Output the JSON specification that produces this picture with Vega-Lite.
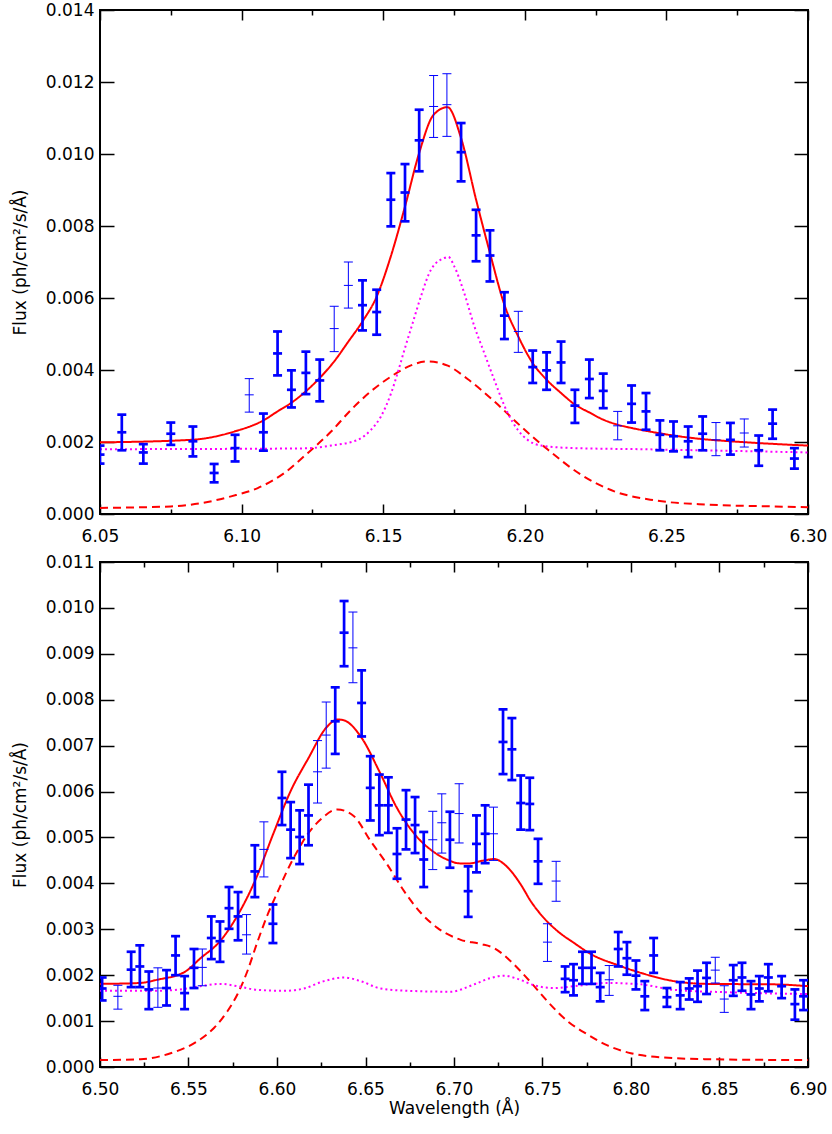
{
  "$schema": "https://vega.github.io/schema/vega-lite/v6.json",
  "padding": {"left": 10, "top": 0, "right": 5, "bottom": 5},
  "background": "white",
  "spacing": 7,
  "config": {
    "view": {"stroke": "#000000", "strokeWidth": 2},
    "axis": {
      "labelFont": "DejaVu Sans", "labelFontSize": 17, "labelColor": "#000000",
      "titleFont": "DejaVu Sans", "titleFontSize": 17, "titleFontWeight": "normal", "titleColor": "#000000",
      "domain": false, "grid": false, "tickColor": "#000000", "tickWidth": 1.5,
      "labelFlush": false, "labelOverlap": false
    }
  },
  "datasets": {
    "top_bars": [
      {"wl": 6.0500, "flux": 0.00165, "lo": 0.00140, "hi": 0.00190, "kind": "thick"},
      {"wl": 6.0577, "flux": 0.00227, "lo": 0.00177, "hi": 0.00276, "kind": "thick"},
      {"wl": 6.0653, "flux": 0.00171, "lo": 0.00140, "hi": 0.00194, "kind": "thick"},
      {"wl": 6.0750, "flux": 0.00223, "lo": 0.00192, "hi": 0.00254, "kind": "thick"},
      {"wl": 6.0828, "flux": 0.00202, "lo": 0.00160, "hi": 0.00243, "kind": "thick"},
      {"wl": 6.0903, "flux": 0.00114, "lo": 0.00088, "hi": 0.00139, "kind": "thick"},
      {"wl": 6.0977, "flux": 0.00183, "lo": 0.00146, "hi": 0.00220, "kind": "thick"},
      {"wl": 6.1027, "flux": 0.00331, "lo": 0.00283, "hi": 0.00376, "kind": "thin"},
      {"wl": 6.1077, "flux": 0.00227, "lo": 0.00176, "hi": 0.00279, "kind": "thick"},
      {"wl": 6.1127, "flux": 0.00446, "lo": 0.00385, "hi": 0.00507, "kind": "thick"},
      {"wl": 6.1176, "flux": 0.00345, "lo": 0.00296, "hi": 0.00399, "kind": "thick"},
      {"wl": 6.1227, "flux": 0.00392, "lo": 0.00333, "hi": 0.00451, "kind": "thick"},
      {"wl": 6.1276, "flux": 0.00371, "lo": 0.00313, "hi": 0.00429, "kind": "thick"},
      {"wl": 6.1327, "flux": 0.00515, "lo": 0.00451, "hi": 0.00577, "kind": "thin"},
      {"wl": 6.1377, "flux": 0.00635, "lo": 0.00572, "hi": 0.00700, "kind": "thin"},
      {"wl": 6.1427, "flux": 0.00580, "lo": 0.00510, "hi": 0.00649, "kind": "thick"},
      {"wl": 6.1477, "flux": 0.00561, "lo": 0.00498, "hi": 0.00623, "kind": "thick"},
      {"wl": 6.1527, "flux": 0.00873, "lo": 0.00799, "hi": 0.00947, "kind": "thick"},
      {"wl": 6.1577, "flux": 0.00893, "lo": 0.00813, "hi": 0.00972, "kind": "thick"},
      {"wl": 6.1627, "flux": 0.01038, "lo": 0.00952, "hi": 0.01123, "kind": "thick"},
      {"wl": 6.1678, "flux": 0.01132, "lo": 0.01046, "hi": 0.01218, "kind": "thin"},
      {"wl": 6.1725, "flux": 0.01137, "lo": 0.01049, "hi": 0.01223, "kind": "thin"},
      {"wl": 6.1775, "flux": 0.01005, "lo": 0.00924, "hi": 0.01086, "kind": "thick"},
      {"wl": 6.1828, "flux": 0.00774, "lo": 0.00702, "hi": 0.00845, "kind": "thick"},
      {"wl": 6.1877, "flux": 0.00718, "lo": 0.00646, "hi": 0.00788, "kind": "thick"},
      {"wl": 6.1928, "flux": 0.00551, "lo": 0.00486, "hi": 0.00616, "kind": "thick"},
      {"wl": 6.1977, "flux": 0.00507, "lo": 0.00449, "hi": 0.00563, "kind": "thin"},
      {"wl": 6.2028, "flux": 0.00408, "lo": 0.00364, "hi": 0.00454, "kind": "thick"},
      {"wl": 6.2077, "flux": 0.00399, "lo": 0.00345, "hi": 0.00449, "kind": "thick"},
      {"wl": 6.2128, "flux": 0.00421, "lo": 0.00364, "hi": 0.00479, "kind": "thick"},
      {"wl": 6.2177, "flux": 0.00301, "lo": 0.00253, "hi": 0.00345, "kind": "thick"},
      {"wl": 6.2228, "flux": 0.00375, "lo": 0.00322, "hi": 0.00429, "kind": "thick"},
      {"wl": 6.2277, "flux": 0.00342, "lo": 0.00294, "hi": 0.00390, "kind": "thick"},
      {"wl": 6.2328, "flux": 0.00245, "lo": 0.00206, "hi": 0.00285, "kind": "thin"},
      {"wl": 6.2377, "flux": 0.00306, "lo": 0.00254, "hi": 0.00357, "kind": "thick"},
      {"wl": 6.2428, "flux": 0.00285, "lo": 0.00234, "hi": 0.00336, "kind": "thick"},
      {"wl": 6.2477, "flux": 0.00220, "lo": 0.00177, "hi": 0.00260, "kind": "thick"},
      {"wl": 6.2525, "flux": 0.00216, "lo": 0.00174, "hi": 0.00257, "kind": "thick"},
      {"wl": 6.2577, "flux": 0.00202, "lo": 0.00158, "hi": 0.00243, "kind": "thick"},
      {"wl": 6.2628, "flux": 0.00223, "lo": 0.00177, "hi": 0.00271, "kind": "thick"},
      {"wl": 6.2675, "flux": 0.00206, "lo": 0.00162, "hi": 0.00254, "kind": "thin"},
      {"wl": 6.2726, "flux": 0.00206, "lo": 0.00165, "hi": 0.00253, "kind": "thick"},
      {"wl": 6.2775, "flux": 0.00225, "lo": 0.00186, "hi": 0.00264, "kind": "thin"},
      {"wl": 6.2826, "flux": 0.00177, "lo": 0.00134, "hi": 0.00218, "kind": "thick"},
      {"wl": 6.2875, "flux": 0.00251, "lo": 0.00209, "hi": 0.00290, "kind": "thick"},
      {"wl": 6.2952, "flux": 0.00154, "lo": 0.00126, "hi": 0.00183, "kind": "thick"}
    ],
    "top_lines": [
      {"comp": "model", "wl": 6.0500, "flux": 0.00199},
      {"comp": "model", "wl": 6.0821, "flux": 0.00206},
      {"comp": "model", "wl": 6.0974, "flux": 0.00229},
      {"comp": "model", "wl": 6.1077, "flux": 0.00260},
      {"comp": "model", "wl": 6.1127, "flux": 0.00285},
      {"comp": "model", "wl": 6.1174, "flux": 0.00308},
      {"comp": "model", "wl": 6.1227, "flux": 0.00341},
      {"comp": "model", "wl": 6.1276, "flux": 0.00378},
      {"comp": "model", "wl": 6.1327, "flux": 0.00424},
      {"comp": "model", "wl": 6.1377, "flux": 0.00479},
      {"comp": "model", "wl": 6.1427, "flux": 0.00535},
      {"comp": "model", "wl": 6.1477, "flux": 0.00604},
      {"comp": "model", "wl": 6.1527, "flux": 0.00716},
      {"comp": "model", "wl": 6.1577, "flux": 0.00854},
      {"comp": "model", "wl": 6.1627, "flux": 0.01003},
      {"comp": "model", "wl": 6.1678, "flux": 0.01109},
      {"comp": "model", "wl": 6.1727, "flux": 0.01130},
      {"comp": "model", "wl": 6.1775, "flux": 0.01044},
      {"comp": "model", "wl": 6.1828, "flux": 0.00873},
      {"comp": "model", "wl": 6.1877, "flux": 0.00725},
      {"comp": "model", "wl": 6.1928, "flux": 0.00581},
      {"comp": "model", "wl": 6.1977, "flux": 0.00493},
      {"comp": "model", "wl": 6.2028, "flux": 0.00419},
      {"comp": "model", "wl": 6.2077, "flux": 0.00373},
      {"comp": "model", "wl": 6.2128, "flux": 0.00336},
      {"comp": "model", "wl": 6.2177, "flux": 0.00304},
      {"comp": "model", "wl": 6.2228, "flux": 0.00282},
      {"comp": "model", "wl": 6.2277, "flux": 0.00262},
      {"comp": "model", "wl": 6.2328, "flux": 0.00248},
      {"comp": "model", "wl": 6.2377, "flux": 0.00239},
      {"comp": "model", "wl": 6.2428, "flux": 0.00231},
      {"comp": "model", "wl": 6.2525, "flux": 0.00218},
      {"comp": "model", "wl": 6.2628, "flux": 0.00208},
      {"comp": "model", "wl": 6.2726, "flux": 0.00202},
      {"comp": "model", "wl": 6.2826, "flux": 0.00197},
      {"comp": "model", "wl": 6.3000, "flux": 0.00190},
      {"comp": "broad", "wl": 6.0500, "flux": 0.00017},
      {"comp": "broad", "wl": 6.0750, "flux": 0.00021},
      {"comp": "broad", "wl": 6.0856, "flux": 0.00030},
      {"comp": "broad", "wl": 6.0963, "flux": 0.00049},
      {"comp": "broad", "wl": 6.1057, "flux": 0.00072},
      {"comp": "broad", "wl": 6.1151, "flux": 0.00114},
      {"comp": "broad", "wl": 6.1233, "flux": 0.00169},
      {"comp": "broad", "wl": 6.1316, "flux": 0.00229},
      {"comp": "broad", "wl": 6.1386, "flux": 0.00289},
      {"comp": "broad", "wl": 6.1457, "flux": 0.00341},
      {"comp": "broad", "wl": 6.1528, "flux": 0.00382},
      {"comp": "broad", "wl": 6.1598, "flux": 0.00413},
      {"comp": "broad", "wl": 6.1657, "flux": 0.00424},
      {"comp": "broad", "wl": 6.1728, "flux": 0.00412},
      {"comp": "broad", "wl": 6.1798, "flux": 0.00375},
      {"comp": "broad", "wl": 6.1892, "flux": 0.00313},
      {"comp": "broad", "wl": 6.1987, "flux": 0.00243},
      {"comp": "broad", "wl": 6.2081, "flux": 0.00179},
      {"comp": "broad", "wl": 6.2199, "flux": 0.00109},
      {"comp": "broad", "wl": 6.2316, "flux": 0.00063},
      {"comp": "broad", "wl": 6.2458, "flux": 0.00038},
      {"comp": "broad", "wl": 6.2646, "flux": 0.00026},
      {"comp": "broad", "wl": 6.2882, "flux": 0.00021},
      {"comp": "broad", "wl": 6.3000, "flux": 0.00019},
      {"comp": "narrow", "wl": 6.0500, "flux": 0.00180},
      {"comp": "narrow", "wl": 6.1200, "flux": 0.00182},
      {"comp": "narrow", "wl": 6.1245, "flux": 0.00183},
      {"comp": "narrow", "wl": 6.1316, "flux": 0.00190},
      {"comp": "narrow", "wl": 6.1410, "flux": 0.00206},
      {"comp": "narrow", "wl": 6.1457, "flux": 0.00234},
      {"comp": "narrow", "wl": 6.1492, "flux": 0.00271},
      {"comp": "narrow", "wl": 6.1528, "flux": 0.00336},
      {"comp": "narrow", "wl": 6.1551, "flux": 0.00392},
      {"comp": "narrow", "wl": 6.1575, "flux": 0.00456},
      {"comp": "narrow", "wl": 6.1604, "flux": 0.00530},
      {"comp": "narrow", "wl": 6.1633, "flux": 0.00604},
      {"comp": "narrow", "wl": 6.1669, "flux": 0.00679},
      {"comp": "narrow", "wl": 6.1716, "flux": 0.00711},
      {"comp": "narrow", "wl": 6.1730, "flux": 0.00714},
      {"comp": "narrow", "wl": 6.1751, "flux": 0.00688},
      {"comp": "narrow", "wl": 6.1786, "flux": 0.00614},
      {"comp": "narrow", "wl": 6.1822, "flux": 0.00521},
      {"comp": "narrow", "wl": 6.1857, "flux": 0.00447},
      {"comp": "narrow", "wl": 6.1892, "flux": 0.00373},
      {"comp": "narrow", "wl": 6.1940, "flux": 0.00280},
      {"comp": "narrow", "wl": 6.1975, "flux": 0.00234},
      {"comp": "narrow", "wl": 6.2010, "flux": 0.00206},
      {"comp": "narrow", "wl": 6.2057, "flux": 0.00190},
      {"comp": "narrow", "wl": 6.2175, "flux": 0.00183},
      {"comp": "narrow", "wl": 6.2410, "flux": 0.00180},
      {"comp": "narrow", "wl": 6.3000, "flux": 0.00171}
    ],
    "bottom_bars": [
      {"wl": 6.5012, "flux": 0.00171, "lo": 0.00145, "hi": 0.00195, "kind": "thick"},
      {"wl": 6.5101, "flux": 0.00154, "lo": 0.00126, "hi": 0.00178, "kind": "thin"},
      {"wl": 6.5176, "flux": 0.00212, "lo": 0.00174, "hi": 0.00251, "kind": "thick"},
      {"wl": 6.5225, "flux": 0.00219, "lo": 0.00174, "hi": 0.00265, "kind": "thick"},
      {"wl": 6.5276, "flux": 0.00169, "lo": 0.00126, "hi": 0.00208, "kind": "thick"},
      {"wl": 6.5327, "flux": 0.00172, "lo": 0.00130, "hi": 0.00216, "kind": "thin"},
      {"wl": 6.5376, "flux": 0.00172, "lo": 0.00134, "hi": 0.00211, "kind": "thick"},
      {"wl": 6.5427, "flux": 0.00243, "lo": 0.00200, "hi": 0.00285, "kind": "thick"},
      {"wl": 6.5478, "flux": 0.00161, "lo": 0.00126, "hi": 0.00198, "kind": "thick"},
      {"wl": 6.5531, "flux": 0.00216, "lo": 0.00172, "hi": 0.00257, "kind": "thick"},
      {"wl": 6.5578, "flux": 0.00217, "lo": 0.00177, "hi": 0.00257, "kind": "thin"},
      {"wl": 6.5629, "flux": 0.00281, "lo": 0.00235, "hi": 0.00328, "kind": "thick"},
      {"wl": 6.5678, "flux": 0.00274, "lo": 0.00229, "hi": 0.00317, "kind": "thick"},
      {"wl": 6.5729, "flux": 0.00346, "lo": 0.00301, "hi": 0.00392, "kind": "thick"},
      {"wl": 6.5780, "flux": 0.00328, "lo": 0.00276, "hi": 0.00381, "kind": "thick"},
      {"wl": 6.5828, "flux": 0.00288, "lo": 0.00246, "hi": 0.00332, "kind": "thin"},
      {"wl": 6.5875, "flux": 0.00426, "lo": 0.00370, "hi": 0.00483, "kind": "thick"},
      {"wl": 6.5926, "flux": 0.00474, "lo": 0.00414, "hi": 0.00534, "kind": "thin"},
      {"wl": 6.5977, "flux": 0.00312, "lo": 0.00270, "hi": 0.00354, "kind": "thick"},
      {"wl": 6.6028, "flux": 0.00586, "lo": 0.00527, "hi": 0.00643, "kind": "thick"},
      {"wl": 6.6077, "flux": 0.00517, "lo": 0.00455, "hi": 0.00577, "kind": "thick"},
      {"wl": 6.6128, "flux": 0.00501, "lo": 0.00442, "hi": 0.00559, "kind": "thick"},
      {"wl": 6.6178, "flux": 0.00548, "lo": 0.00483, "hi": 0.00615, "kind": "thick"},
      {"wl": 6.6229, "flux": 0.00643, "lo": 0.00575, "hi": 0.00711, "kind": "thin"},
      {"wl": 6.6278, "flux": 0.00723, "lo": 0.00651, "hi": 0.00795, "kind": "thin"},
      {"wl": 6.6329, "flux": 0.00753, "lo": 0.00682, "hi": 0.00827, "kind": "thick"},
      {"wl": 6.6379, "flux": 0.00946, "lo": 0.00873, "hi": 0.01015, "kind": "thick"},
      {"wl": 6.6429, "flux": 0.00913, "lo": 0.00837, "hi": 0.00991, "kind": "thin"},
      {"wl": 6.6478, "flux": 0.00793, "lo": 0.00720, "hi": 0.00864, "kind": "thick"},
      {"wl": 6.6527, "flux": 0.00608, "lo": 0.00537, "hi": 0.00677, "kind": "thick"},
      {"wl": 6.6578, "flux": 0.00570, "lo": 0.00505, "hi": 0.00637, "kind": "thick"},
      {"wl": 6.6629, "flux": 0.00570, "lo": 0.00510, "hi": 0.00631, "kind": "thick"},
      {"wl": 6.6678, "flux": 0.00464, "lo": 0.00410, "hi": 0.00520, "kind": "thick"},
      {"wl": 6.6729, "flux": 0.00539, "lo": 0.00474, "hi": 0.00603, "kind": "thick"},
      {"wl": 6.6780, "flux": 0.00527, "lo": 0.00466, "hi": 0.00588, "kind": "thick"},
      {"wl": 6.6829, "flux": 0.00452, "lo": 0.00392, "hi": 0.00512, "kind": "thick"},
      {"wl": 6.6880, "flux": 0.00495, "lo": 0.00430, "hi": 0.00557, "kind": "thin"},
      {"wl": 6.6931, "flux": 0.00532, "lo": 0.00466, "hi": 0.00595, "kind": "thin"},
      {"wl": 6.6977, "flux": 0.00495, "lo": 0.00434, "hi": 0.00556, "kind": "thick"},
      {"wl": 6.7029, "flux": 0.00552, "lo": 0.00488, "hi": 0.00617, "kind": "thin"},
      {"wl": 6.7080, "flux": 0.00383, "lo": 0.00327, "hi": 0.00437, "kind": "thick"},
      {"wl": 6.7127, "flux": 0.00486, "lo": 0.00424, "hi": 0.00548, "kind": "thick"},
      {"wl": 6.7176, "flux": 0.00508, "lo": 0.00444, "hi": 0.00570, "kind": "thick"},
      {"wl": 6.7223, "flux": 0.00508, "lo": 0.00450, "hi": 0.00566, "kind": "thin"},
      {"wl": 6.7277, "flux": 0.00708, "lo": 0.00638, "hi": 0.00779, "kind": "thick"},
      {"wl": 6.7327, "flux": 0.00692, "lo": 0.00625, "hi": 0.00760, "kind": "thick"},
      {"wl": 6.7377, "flux": 0.00575, "lo": 0.00517, "hi": 0.00635, "kind": "thick"},
      {"wl": 6.7428, "flux": 0.00573, "lo": 0.00516, "hi": 0.00630, "kind": "thick"},
      {"wl": 6.7475, "flux": 0.00448, "lo": 0.00399, "hi": 0.00497, "kind": "thick"},
      {"wl": 6.7528, "flux": 0.00272, "lo": 0.00230, "hi": 0.00312, "kind": "thin"},
      {"wl": 6.7577, "flux": 0.00405, "lo": 0.00361, "hi": 0.00448, "kind": "thin"},
      {"wl": 6.7628, "flux": 0.00192, "lo": 0.00163, "hi": 0.00219, "kind": "thick"},
      {"wl": 6.7675, "flux": 0.00189, "lo": 0.00156, "hi": 0.00224, "kind": "thick"},
      {"wl": 6.7726, "flux": 0.00216, "lo": 0.00181, "hi": 0.00251, "kind": "thick"},
      {"wl": 6.7777, "flux": 0.00216, "lo": 0.00181, "hi": 0.00251, "kind": "thick"},
      {"wl": 6.7826, "flux": 0.00174, "lo": 0.00143, "hi": 0.00205, "kind": "thick"},
      {"wl": 6.7877, "flux": 0.00190, "lo": 0.00156, "hi": 0.00221, "kind": "thin"},
      {"wl": 6.7928, "flux": 0.00257, "lo": 0.00219, "hi": 0.00294, "kind": "thick"},
      {"wl": 6.7977, "flux": 0.00237, "lo": 0.00201, "hi": 0.00272, "kind": "thick"},
      {"wl": 6.8028, "flux": 0.00199, "lo": 0.00169, "hi": 0.00232, "kind": "thick"},
      {"wl": 6.8078, "flux": 0.00154, "lo": 0.00124, "hi": 0.00187, "kind": "thick"},
      {"wl": 6.8128, "flux": 0.00243, "lo": 0.00205, "hi": 0.00281, "kind": "thick"},
      {"wl": 6.8203, "flux": 0.00152, "lo": 0.00131, "hi": 0.00172, "kind": "thick"},
      {"wl": 6.8278, "flux": 0.00156, "lo": 0.00126, "hi": 0.00185, "kind": "thick"},
      {"wl": 6.8329, "flux": 0.00171, "lo": 0.00147, "hi": 0.00193, "kind": "thick"},
      {"wl": 6.8376, "flux": 0.00176, "lo": 0.00142, "hi": 0.00210, "kind": "thick"},
      {"wl": 6.8427, "flux": 0.00194, "lo": 0.00159, "hi": 0.00227, "kind": "thick"},
      {"wl": 6.8476, "flux": 0.00211, "lo": 0.00183, "hi": 0.00239, "kind": "thin"},
      {"wl": 6.8527, "flux": 0.00148, "lo": 0.00119, "hi": 0.00177, "kind": "thin"},
      {"wl": 6.8578, "flux": 0.00189, "lo": 0.00155, "hi": 0.00222, "kind": "thick"},
      {"wl": 6.8627, "flux": 0.00195, "lo": 0.00166, "hi": 0.00227, "kind": "thick"},
      {"wl": 6.8678, "flux": 0.00158, "lo": 0.00126, "hi": 0.00187, "kind": "thick"},
      {"wl": 6.8725, "flux": 0.00171, "lo": 0.00143, "hi": 0.00198, "kind": "thick"},
      {"wl": 6.8776, "flux": 0.00195, "lo": 0.00165, "hi": 0.00224, "kind": "thick"},
      {"wl": 6.8851, "flux": 0.00176, "lo": 0.00150, "hi": 0.00198, "kind": "thick"},
      {"wl": 6.8926, "flux": 0.00137, "lo": 0.00103, "hi": 0.00169, "kind": "thick"},
      {"wl": 6.8975, "flux": 0.00154, "lo": 0.00124, "hi": 0.00189, "kind": "thick"}
    ],
    "bottom_lines": [
      {"comp": "model", "wl": 6.5000, "flux": 0.00181},
      {"comp": "model", "wl": 6.5225, "flux": 0.00183},
      {"comp": "model", "wl": 6.5323, "flux": 0.00190},
      {"comp": "model", "wl": 6.5478, "flux": 0.00207},
      {"comp": "model", "wl": 6.5568, "flux": 0.00237},
      {"comp": "model", "wl": 6.5678, "flux": 0.00274},
      {"comp": "model", "wl": 6.5780, "flux": 0.00332},
      {"comp": "model", "wl": 6.5875, "flux": 0.00405},
      {"comp": "model", "wl": 6.5977, "flux": 0.00506},
      {"comp": "model", "wl": 6.6077, "flux": 0.00601},
      {"comp": "model", "wl": 6.6178, "flux": 0.00673},
      {"comp": "model", "wl": 6.6278, "flux": 0.00739},
      {"comp": "model", "wl": 6.6342, "flux": 0.00757},
      {"comp": "model", "wl": 6.6379, "flux": 0.00755},
      {"comp": "model", "wl": 6.6478, "flux": 0.00717},
      {"comp": "model", "wl": 6.6578, "flux": 0.00644},
      {"comp": "model", "wl": 6.6678, "flux": 0.00564},
      {"comp": "model", "wl": 6.6780, "flux": 0.00506},
      {"comp": "model", "wl": 6.6880, "flux": 0.00470},
      {"comp": "model", "wl": 6.6972, "flux": 0.00450},
      {"comp": "model", "wl": 6.7020, "flux": 0.00444},
      {"comp": "model", "wl": 6.7076, "flux": 0.00443},
      {"comp": "model", "wl": 6.7171, "flux": 0.00450},
      {"comp": "model", "wl": 6.7227, "flux": 0.00453},
      {"comp": "model", "wl": 6.7283, "flux": 0.00442},
      {"comp": "model", "wl": 6.7330, "flux": 0.00423},
      {"comp": "model", "wl": 6.7378, "flux": 0.00397},
      {"comp": "model", "wl": 6.7434, "flux": 0.00361},
      {"comp": "model", "wl": 6.7491, "flux": 0.00332},
      {"comp": "model", "wl": 6.7585, "flux": 0.00296},
      {"comp": "model", "wl": 6.7679, "flux": 0.00270},
      {"comp": "model", "wl": 6.7773, "flux": 0.00246},
      {"comp": "model", "wl": 6.7924, "flux": 0.00222},
      {"comp": "model", "wl": 6.8056, "flux": 0.00205},
      {"comp": "model", "wl": 6.8244, "flux": 0.00187},
      {"comp": "model", "wl": 6.8433, "flux": 0.00181},
      {"comp": "model", "wl": 6.8810, "flux": 0.00180},
      {"comp": "model", "wl": 6.9000, "flux": 0.00176},
      {"comp": "broad", "wl": 6.5000, "flux": 0.00015},
      {"comp": "broad", "wl": 6.5229, "flux": 0.00017},
      {"comp": "broad", "wl": 6.5399, "flux": 0.00030},
      {"comp": "broad", "wl": 6.5550, "flux": 0.00056},
      {"comp": "broad", "wl": 6.5644, "flux": 0.00085},
      {"comp": "broad", "wl": 6.5719, "flux": 0.00121},
      {"comp": "broad", "wl": 6.5776, "flux": 0.00158},
      {"comp": "broad", "wl": 6.5832, "flux": 0.00208},
      {"comp": "broad", "wl": 6.5889, "flux": 0.00272},
      {"comp": "broad", "wl": 6.5945, "flux": 0.00330},
      {"comp": "broad", "wl": 6.6002, "flux": 0.00380},
      {"comp": "broad", "wl": 6.6058, "flux": 0.00428},
      {"comp": "broad", "wl": 6.6115, "flux": 0.00470},
      {"comp": "broad", "wl": 6.6171, "flux": 0.00506},
      {"comp": "broad", "wl": 6.6246, "flux": 0.00539},
      {"comp": "broad", "wl": 6.6341, "flux": 0.00561},
      {"comp": "broad", "wl": 6.6435, "flux": 0.00546},
      {"comp": "broad", "wl": 6.6529, "flux": 0.00492},
      {"comp": "broad", "wl": 6.6623, "flux": 0.00441},
      {"comp": "broad", "wl": 6.6718, "flux": 0.00383},
      {"comp": "broad", "wl": 6.6812, "flux": 0.00336},
      {"comp": "broad", "wl": 6.6906, "flux": 0.00303},
      {"comp": "broad", "wl": 6.7038, "flux": 0.00277},
      {"comp": "broad", "wl": 6.7150, "flux": 0.00268},
      {"comp": "broad", "wl": 6.7227, "flux": 0.00259},
      {"comp": "broad", "wl": 6.7302, "flux": 0.00237},
      {"comp": "broad", "wl": 6.7378, "flux": 0.00208},
      {"comp": "broad", "wl": 6.7453, "flux": 0.00176},
      {"comp": "broad", "wl": 6.7528, "flux": 0.00143},
      {"comp": "broad", "wl": 6.7641, "flux": 0.00100},
      {"comp": "broad", "wl": 6.7754, "flux": 0.00071},
      {"comp": "broad", "wl": 6.7867, "flux": 0.00047},
      {"comp": "broad", "wl": 6.7999, "flux": 0.00030},
      {"comp": "broad", "wl": 6.8169, "flux": 0.00021},
      {"comp": "broad", "wl": 6.8433, "flux": 0.00017},
      {"comp": "broad", "wl": 6.9000, "flux": 0.00015},
      {"comp": "narrow", "wl": 6.5000, "flux": 0.00166},
      {"comp": "narrow", "wl": 6.5323, "flux": 0.00166},
      {"comp": "narrow", "wl": 6.5493, "flux": 0.00171},
      {"comp": "narrow", "wl": 6.5568, "flux": 0.00176},
      {"comp": "narrow", "wl": 6.5681, "flux": 0.00181},
      {"comp": "narrow", "wl": 6.5776, "flux": 0.00176},
      {"comp": "narrow", "wl": 6.5889, "flux": 0.00168},
      {"comp": "narrow", "wl": 6.6039, "flux": 0.00166},
      {"comp": "narrow", "wl": 6.6152, "flux": 0.00171},
      {"comp": "narrow", "wl": 6.6265, "flux": 0.00187},
      {"comp": "narrow", "wl": 6.6379, "flux": 0.00195},
      {"comp": "narrow", "wl": 6.6473, "flux": 0.00187},
      {"comp": "narrow", "wl": 6.6586, "flux": 0.00171},
      {"comp": "narrow", "wl": 6.6737, "flux": 0.00166},
      {"comp": "narrow", "wl": 6.6981, "flux": 0.00164},
      {"comp": "narrow", "wl": 6.7114, "flux": 0.00180},
      {"comp": "narrow", "wl": 6.7208, "flux": 0.00194},
      {"comp": "narrow", "wl": 6.7283, "flux": 0.00199},
      {"comp": "narrow", "wl": 6.7359, "flux": 0.00192},
      {"comp": "narrow", "wl": 6.7453, "flux": 0.00178},
      {"comp": "narrow", "wl": 6.7566, "flux": 0.00172},
      {"comp": "narrow", "wl": 6.7679, "flux": 0.00176},
      {"comp": "narrow", "wl": 6.7867, "flux": 0.00183},
      {"comp": "narrow", "wl": 6.8056, "flux": 0.00180},
      {"comp": "narrow", "wl": 6.8244, "flux": 0.00168},
      {"comp": "narrow", "wl": 6.8527, "flux": 0.00163},
      {"comp": "narrow", "wl": 6.9000, "flux": 0.00159}
    ]
  },
  "vconcat": [
    {
      "width": 708,
      "height": 504,
      "resolve": {"axis": {"x": "independent", "y": "independent"}},
      "layer": [
        {
          "data": {"name": "top_lines"},
          "mark": {"type": "line", "strokeWidth": 2, "interpolate": "monotone", "clip": true},
          "encoding": {
            "x": {"field": "wl", "type": "quantitative", "scale": {"domain": [6.05, 6.3], "nice": false, "zero": false},
                  "axis": {"orient": "bottom", "values": [6.05, 6.1, 6.15, 6.2, 6.25, 6.3], "format": ".2f", "tickSize": -10, "labelPadding": 24, "title": null}},
            "y": {"field": "flux", "type": "quantitative", "scale": {"domain": [0, 0.014], "nice": false, "zero": false},
                  "axis": {"orient": "left", "values": [0, 0.002, 0.004, 0.006, 0.008, 0.01, 0.012, 0.014], "format": ".3f", "tickSize": -14, "labelPadding": 20, "title": "Flux (ph/cm²/s/Å)", "titlePadding": 16}},
            "color": {"field": "comp", "type": "nominal", "legend": null,
                      "scale": {"domain": ["model", "broad", "narrow"], "range": ["#ff0000", "#ff0000", "#ff00ff"]}},
            "strokeDash": {"field": "comp", "type": "nominal", "legend": null,
                           "scale": {"domain": ["model", "broad", "narrow"], "range": [[1, 0], [8, 5], [2, 3]]}}
          }
        },
        {
          "data": {"name": "top_bars"},
          "mark": {"type": "rule", "color": "#0000ff", "clip": true},
          "encoding": {
            "x": {"field": "wl", "type": "quantitative",
                  "axis": {"orient": "bottom", "values": [6.075, 6.125, 6.175, 6.225, 6.275], "tickSize": -5, "labels": false, "title": null}},
            "y": {"field": "lo", "type": "quantitative",
                  "axis": {"orient": "right", "values": [0, 0.002, 0.004, 0.006, 0.008, 0.01, 0.012, 0.014], "tickSize": -14, "labels": false, "title": null}},
            "y2": {"field": "hi"},
            "strokeWidth": {"field": "kind", "type": "nominal", "legend": null,
                            "scale": {"type": "ordinal", "domain": ["thick", "thin"], "range": [2.7, 1]}}
          }
        },
        {
          "data": {"name": "top_bars"},
          "mark": {"type": "point", "shape": "M-1,0L1,0", "size": 81, "filled": false, "color": "#0000ff", "opacity": 1, "clip": true},
          "encoding": {
            "x": {"field": "wl", "type": "quantitative",
                  "axis": {"orient": "top", "values": [6.05, 6.1, 6.15, 6.2, 6.25, 6.3], "tickSize": -10, "labels": false, "title": null}},
            "y": {"field": "lo", "type": "quantitative", "axis": null},
            "strokeWidth": {"field": "kind", "type": "nominal", "legend": null,
                            "scale": {"type": "ordinal", "domain": ["thick", "thin"], "range": [2.7, 1]}}
          }
        },
        {
          "data": {"name": "top_bars"},
          "mark": {"type": "point", "shape": "M-1,0L1,0", "size": 81, "filled": false, "color": "#0000ff", "opacity": 1, "clip": true},
          "encoding": {
            "x": {"field": "wl", "type": "quantitative",
                  "axis": {"orient": "top", "values": [6.075, 6.125, 6.175, 6.225, 6.275], "tickSize": -5, "labels": false, "title": null}},
            "y": {"field": "hi", "type": "quantitative", "axis": null},
            "strokeWidth": {"field": "kind", "type": "nominal", "legend": null,
                            "scale": {"type": "ordinal", "domain": ["thick", "thin"], "range": [2.7, 1]}}
          }
        },
        {
          "data": {"name": "top_bars"},
          "mark": {"type": "point", "shape": "M-1,0L1,0", "size": 81, "filled": false, "color": "#0000ff", "opacity": 1, "clip": true},
          "encoding": {
            "x": {"field": "wl", "type": "quantitative", "axis": null},
            "y": {"field": "flux", "type": "quantitative", "axis": null},
            "strokeWidth": {"field": "kind", "type": "nominal", "legend": null,
                            "scale": {"type": "ordinal", "domain": ["thick", "thin"], "range": [2.7, 1]}}
          }
        }
      ]
    },
    {
      "width": 708,
      "height": 505,
      "resolve": {"axis": {"x": "independent", "y": "independent"}},
      "layer": [
        {
          "data": {"name": "bottom_lines"},
          "mark": {"type": "line", "strokeWidth": 2, "interpolate": "monotone", "clip": true},
          "encoding": {
            "x": {"field": "wl", "type": "quantitative", "scale": {"domain": [6.5, 6.9], "nice": false, "zero": false},
                  "axis": {"orient": "bottom", "values": [6.5, 6.55, 6.6, 6.65, 6.7, 6.75, 6.8, 6.85, 6.9], "format": ".2f", "tickSize": -10, "labelPadding": 24, "title": "Wavelength (Å)", "titlePadding": 3}},
            "y": {"field": "flux", "type": "quantitative", "scale": {"domain": [0, 0.011], "nice": false, "zero": false},
                  "axis": {"orient": "left", "values": [0, 0.001, 0.002, 0.003, 0.004, 0.005, 0.006, 0.007, 0.008, 0.009, 0.01, 0.011], "format": ".3f", "tickSize": -14, "labelPadding": 20, "title": "Flux (ph/cm²/s/Å)", "titlePadding": 16}},
            "color": {"field": "comp", "type": "nominal", "legend": null,
                      "scale": {"domain": ["model", "broad", "narrow"], "range": ["#ff0000", "#ff0000", "#ff00ff"]}},
            "strokeDash": {"field": "comp", "type": "nominal", "legend": null,
                           "scale": {"domain": ["model", "broad", "narrow"], "range": [[1, 0], [8, 5], [2, 3]]}}
          }
        },
        {
          "data": {"name": "bottom_bars"},
          "mark": {"type": "rule", "color": "#0000ff", "clip": true},
          "encoding": {
            "x": {"field": "wl", "type": "quantitative",
                  "axis": {"orient": "bottom", "values": [6.525, 6.575, 6.625, 6.675, 6.725, 6.775, 6.825, 6.875], "tickSize": -5, "labels": false, "title": null}},
            "y": {"field": "lo", "type": "quantitative",
                  "axis": {"orient": "right", "values": [0, 0.001, 0.002, 0.003, 0.004, 0.005, 0.006, 0.007, 0.008, 0.009, 0.01, 0.011], "tickSize": -14, "labels": false, "title": null}},
            "y2": {"field": "hi"},
            "strokeWidth": {"field": "kind", "type": "nominal", "legend": null,
                            "scale": {"type": "ordinal", "domain": ["thick", "thin"], "range": [2.7, 1]}}
          }
        },
        {
          "data": {"name": "bottom_bars"},
          "mark": {"type": "point", "shape": "M-1,0L1,0", "size": 81, "filled": false, "color": "#0000ff", "opacity": 1, "clip": true},
          "encoding": {
            "x": {"field": "wl", "type": "quantitative",
                  "axis": {"orient": "top", "values": [6.5, 6.55, 6.6, 6.65, 6.7, 6.75, 6.8, 6.85, 6.9], "tickSize": -10, "labels": false, "title": null}},
            "y": {"field": "lo", "type": "quantitative", "axis": null},
            "strokeWidth": {"field": "kind", "type": "nominal", "legend": null,
                            "scale": {"type": "ordinal", "domain": ["thick", "thin"], "range": [2.7, 1]}}
          }
        },
        {
          "data": {"name": "bottom_bars"},
          "mark": {"type": "point", "shape": "M-1,0L1,0", "size": 81, "filled": false, "color": "#0000ff", "opacity": 1, "clip": true},
          "encoding": {
            "x": {"field": "wl", "type": "quantitative",
                  "axis": {"orient": "top", "values": [6.525, 6.575, 6.625, 6.675, 6.725, 6.775, 6.825, 6.875], "tickSize": -5, "labels": false, "title": null}},
            "y": {"field": "hi", "type": "quantitative", "axis": null},
            "strokeWidth": {"field": "kind", "type": "nominal", "legend": null,
                            "scale": {"type": "ordinal", "domain": ["thick", "thin"], "range": [2.7, 1]}}
          }
        },
        {
          "data": {"name": "bottom_bars"},
          "mark": {"type": "point", "shape": "M-1,0L1,0", "size": 81, "filled": false, "color": "#0000ff", "opacity": 1, "clip": true},
          "encoding": {
            "x": {"field": "wl", "type": "quantitative", "axis": null},
            "y": {"field": "flux", "type": "quantitative", "axis": null},
            "strokeWidth": {"field": "kind", "type": "nominal", "legend": null,
                            "scale": {"type": "ordinal", "domain": ["thick", "thin"], "range": [2.7, 1]}}
          }
        }
      ]
    }
  ]
}
